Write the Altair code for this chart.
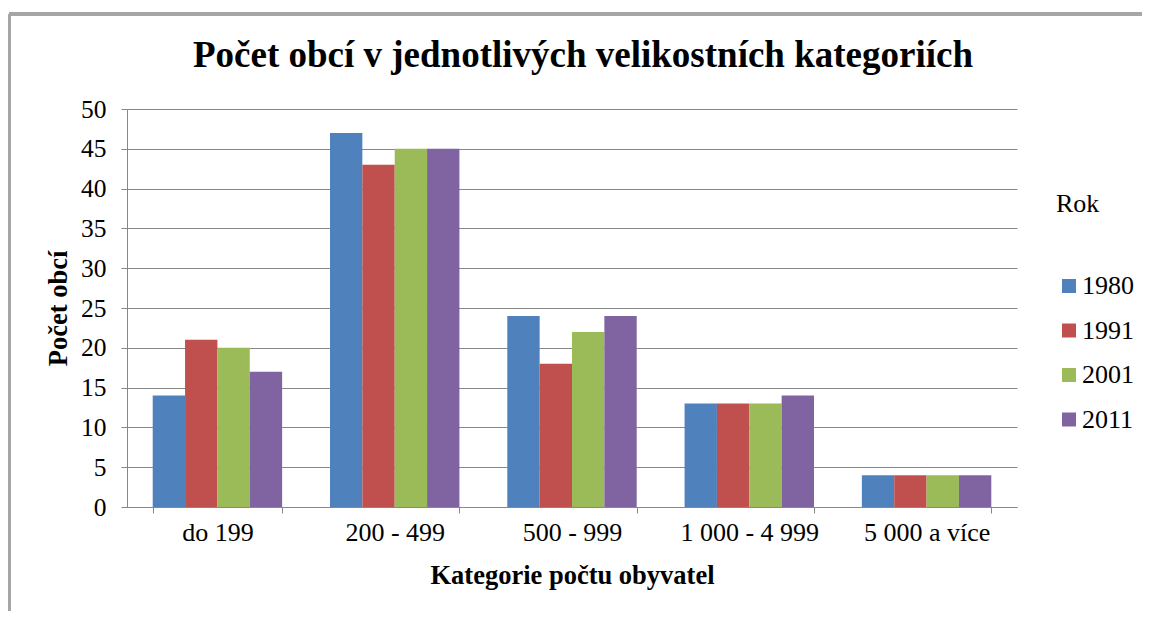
import altair as alt
import pandas as pd

categories = ["do 199", "200 - 499", "500 - 999", "1 000 - 4 999", "5 000 a více"]
years = ["1980", "1991", "2001", "2011"]
v1980 = [14, 47, 24, 13, 4]
v1991 = [21, 43, 18, 13, 4]
v2001 = [20, 45, 22, 13, 4]
v2011 = [17, 45, 24, 14, 4]
colors = ["#4F81BD", "#C0504D", "#9BBB59", "#8064A2"]

rows = []
for y, vals in zip(years, [v1980, v1991, v2001, v2011]):
    for c, v in zip(categories, vals):
        rows.append({"Kategorie": c, "Rok": y, "Počet": v})
df = pd.DataFrame(rows)

W, H = 890, 398
FONT = "Liberation Serif"

bars = alt.Chart(df).mark_bar().encode(
    x=alt.X("Kategorie:N", sort=categories,
            scale=alt.Scale(paddingInner=0.27, paddingOuter=0.145),
            axis=alt.Axis(title="Kategorie počtu obyvatel", labelAngle=0,
                          labelFont=FONT, titleFont=FONT,
                          labelFontSize=26, titleFontSize=26.5, titleFontWeight="bold",
                          labelPadding=6, titlePadding=17, tickBand="extent",
                          domainColor="#888888", tickColor="#888888", tickSize=6,
                          labelColor="black", titleColor="black")),
    xOffset=alt.XOffset("Rok:N", sort=years, scale=alt.Scale(paddingInner=0, paddingOuter=0)),
    y=alt.Y("Počet:Q", scale=alt.Scale(domain=[0, 50]),
            axis=alt.Axis(title="Počet obcí", values=list(range(0, 51, 5)),
                          labelFont=FONT, titleFont=FONT,
                          labelFontSize=25.5, titleFontSize=26.5, titleFontWeight="bold",
                          labelPadding=15, titlePadding=8, grid=True,
                          gridColor="#888888", domainColor="#888888", tickColor="#888888",
                          tickSize=6, labelColor="black", titleColor="black")),
    color=alt.Color("Rok:N", sort=years,
                    scale=alt.Scale(domain=years, range=colors),
                    legend=alt.Legend(title="Rok", orient="none", legendX=929, legendY=82,
                                      labelFont=FONT, titleFont=FONT,
                                      titleFontSize=26, titleFontWeight="normal",
                                      labelFontSize=26, symbolType="square", symbolSize=196,
                                      symbolStrokeWidth=0, titlePadding=56, rowPadding=18.5,
                                      labelOffset=0,
                                      labelColor="black", titleColor="black")),
)

frame_left = alt.Chart(df).mark_rule(color="#A6A6A6", strokeWidth=3).encode(
    x=alt.value(-118), y=alt.value(-95), y2=alt.value(H + 120))
frame_top = alt.Chart(df).mark_rule(color="#A6A6A6", strokeWidth=3).encode(
    x=alt.value(-118), x2=alt.value(W + 140), y=alt.value(-95))

chart = alt.layer(bars, frame_left, frame_top).properties(
    width=W, height=H,
    autosize=alt.AutoSizeParams(type="none"),
    padding={"left": 119, "top": 101, "right": 125, "bottom": 104},
    title=alt.TitleParams("Počet obcí v jednotlivých velikostních kategoriích",
                          fontSize=37, fontWeight="bold", font=FONT, color="black",
                          anchor="middle", dx=11, offset=-62),
).configure(font=FONT).configure_view(stroke=None)

chart.save("out.html", embed_options={"renderer": "svg", "actions": False})
